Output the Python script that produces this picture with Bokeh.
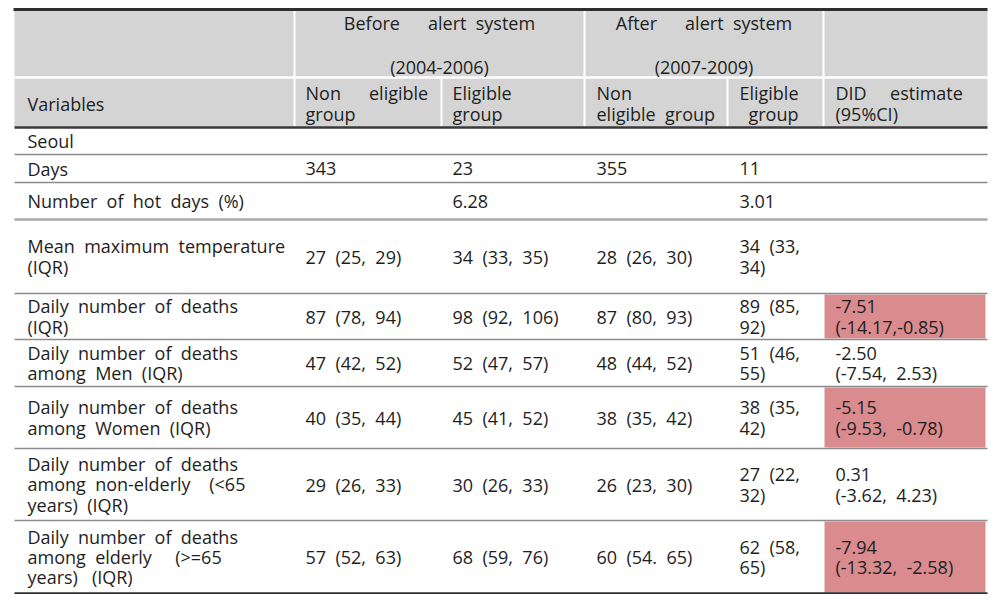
from bokeh.plotting import figure
from bokeh.models import Range1d, ColumnDataSource
from bokeh.core.properties import value
from bokeh.embed import file_html
from bokeh.resources import INLINE

NB = "\u00a0"

def sp(s):
    # keep wide (justified) gaps: runs of spaces -> non-breaking spaces
    out = []
    run = 0
    for ch in s:
        if ch == " ":
            run += 1
        else:
            if run:
                out.append(" " if run == 1 else NB * run)
                run = 0
            out.append(ch)
    if run:
        out.append(" " if run == 1 else NB * run)
    return "".join(out)

# ---------------- data ----------------
periods = ["Before      alert  system", "After      alert  system"]
period_years = ["(2004-2006)", "(2007-2009)"]
col_headers = ["Variables", "Non      eligible\ngroup", "Eligible\ngroup",
               "Non\neligible  group", "Eligible\ngroup", "DID     estimate\n(95%CI)"]

variables = ["Seoul", "Days", "Number  of  hot  days  (%)",
             "Mean  maximum  temperature\n(IQR)",
             "Daily  number  of  deaths\n(IQR)",
             "Daily  number  of  deaths\namong  Men  (IQR)",
             "Daily  number  of  deaths\namong  Women  (IQR)",
             "Daily  number  of  deaths\namong  non-elderly    (<65\nyears)  (IQR)",
             "Daily  number  of  deaths\namong  elderly     (>=65\nyears)   (IQR)"]
before_non = ["", "343", "", "27  (25,  29)", "87  (78,  94)", "47  (42,  52)",
              "40  (35,  44)", "29  (26,  33)", "57  (52,  63)"]
before_elig = ["", "23", "6.28", "34  (33,  35)", "98  (92,  106)", "52  (47,  57)",
               "45  (41,  52)", "30  (26,  33)", "68  (59,  76)"]
after_non = ["", "355", "", "28  (26,  30)", "87  (80,  93)", "48  (44,  52)",
             "38  (35,  42)", "26  (23,  30)", "60  (54.  65)"]
after_elig = ["", "11", "3.01", "34  (33,\n34)", "89  (85,\n92)", "51  (46,\n55)",
              "38  (35,\n42)", "27  (22,\n32)", "62  (58,\n65)"]
did = ["", "", "", "", "-7.51\n(-14.17,-0.85)", "-2.50\n(-7.54,  2.53)",
       "-5.15\n(-9.53,  -0.78)", "0.31\n(-3.62,  4.23)", "-7.94\n(-13.32,  -2.58)"]
significant = [False, False, False, False, True, False, True, False, True]

# ---------------- layout (pixel coords of the page) ----------------
col_edges = [14, 294, 441, 584, 727, 823, 987]
pads = [13, 11, 11, 12, 12, 12]
header_top, header_mid, header_bot = 9, 77, 127
row_edges = [127, 154, 182, 219, 293, 339, 386, 448, 520, 593]

FONT = value("Open Sans")
FS = value("18px")
TC = "#1e1e1e"
LH = 0.84

p = figure(width=989, height=594, x_range=Range1d(0, 989), y_range=Range1d(594, 0),
           output_backend="svg", toolbar_location=None, min_border=0,
           x_axis_location=None, y_axis_location=None)
p.grid.visible = False
p.outline_line_color = None
p.background_fill_color = "white"

# header background
p.quad(left=[col_edges[0]], right=[col_edges[-1]], top=[header_top], bottom=[header_bot],
       fill_color="#d4d4d4", line_color=None)
# white separators in header
p.segment(x0=[col_edges[0]], x1=[col_edges[-1]], y0=[header_mid], y1=[header_mid],
          line_color="white", line_width=2.5)
for x in [col_edges[1], col_edges[3], col_edges[5]]:
    p.segment(x0=[x], x1=[x], y0=[header_top], y1=[header_mid], line_color="white", line_width=2)
for x in col_edges[1:6]:
    p.segment(x0=[x], x1=[x], y0=[header_mid], y1=[header_bot], line_color="white", line_width=2)

# significant cells
sig_rows = [i for i, s in enumerate(significant) if s]
p.quad(left=[col_edges[5] + 1] * len(sig_rows), right=[col_edges[6] - 2] * len(sig_rows),
       top=[row_edges[i] + 1 for i in sig_rows], bottom=[row_edges[i + 1] - 1 for i in sig_rows],
       fill_color="#d98b8e", line_color=None)

# body lines
for y in row_edges[1:-1]:
    if y == 219:
        p.segment(x0=[col_edges[0]], x1=[col_edges[-1]], y0=[y], y1=[y],
                  line_color="#a8a8a8", line_width=2.5)
    else:
        p.segment(x0=[col_edges[0]], x1=[col_edges[-1]], y0=[y], y1=[y],
                  line_color="#8c8c8c", line_width=1.6)
# thick rules
p.segment(x0=[13], x1=[col_edges[-1]], y0=[header_top], y1=[header_top], line_color="#2e2e2e", line_width=3)
p.segment(x0=[col_edges[0]], x1=[col_edges[-1]], y0=[header_bot], y1=[header_bot], line_color="#3a3a3a", line_width=2.5)
p.segment(x0=[col_edges[0]], x1=[col_edges[-1]], y0=[row_edges[-1]], y1=[row_edges[-1]], line_color="#2e2e2e", line_width=2.5)

# header texts
p1_x = [(col_edges[1] + col_edges[3]) / 2, (col_edges[3] + col_edges[5]) / 2]
p.text(x=p1_x, y=[22, 22], text=[sp(t) for t in periods], text_align="center",
       text_baseline="middle", text_font=FONT, text_font_size=FS, text_color=TC)
p.text(x=p1_x, y=[66, 66], text=period_years, text_align="center",
       text_baseline="middle", text_font=FONT, text_font_size=FS, text_color=TC)
hx = [col_edges[i] + pads[i] for i in range(6)]
hx[4] = col_edges[5] - 25
aligns = ["left", "left", "left", "left", "right", "left"]
for i in range(6):
    p.text(x=[hx[i]], y=[(header_mid + header_bot) / 2 + 1], text=[sp(col_headers[i])],
           text_align=aligns[i], text_baseline="middle", text_font=FONT, text_font_size=FS,
           text_color=TC, text_line_height=LH)

# body texts
cols = [variables, before_non, before_elig, after_non, after_elig, did]
ymid = [(row_edges[i] + row_edges[i + 1]) / 2 for i in range(len(variables))]
for ci, col in enumerate(cols):
    src = ColumnDataSource(dict(x=[col_edges[ci] + pads[ci]] * len(col), y=ymid,
                                t=[sp(s) for s in col]))
    p.text(x="x", y="y", text="t", source=src, text_align="left", text_baseline="middle",
           text_font=FONT, text_font_size=FS, text_color=TC, text_line_height=LH)

open("out.html", "w").write(file_html(p, INLINE))
